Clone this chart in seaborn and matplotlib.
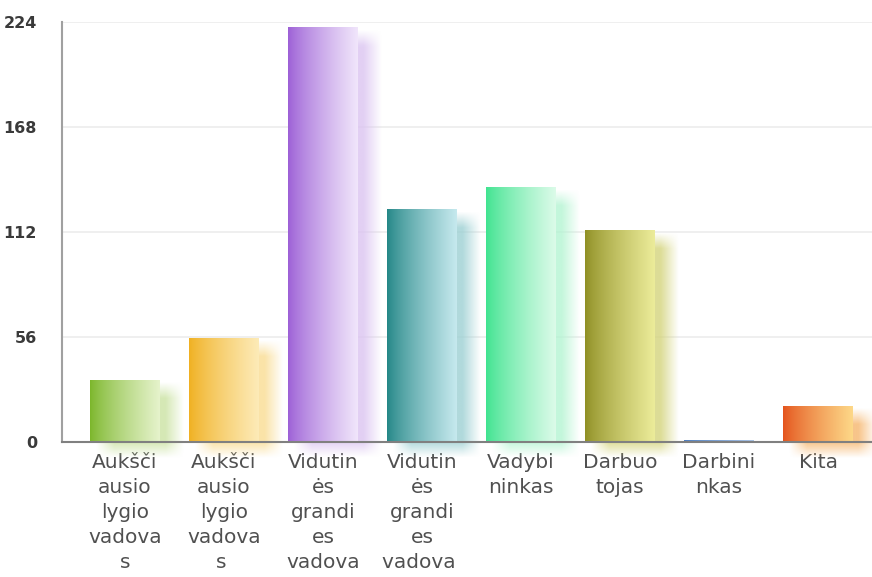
import numpy as np
import matplotlib
matplotlib.use("Agg")
import matplotlib.pyplot as plt
import matplotlib.colors as mcolors
import seaborn as sns

categories = [
    "Aukšči\nausio\nlygio\nvadova\ns",
    "Aukšči\nausio\nlygio\nvadova\ns ",
    "Vidutin\nės\ngrandi\nes\nvadova",
    "Vidutin\nės\ngrandi\nes\nvadova ",
    "Vadybi\nninkas",
    "Darbuo\ntojas",
    "Darbini\nnkas",
    "Kita",
]
values = [33, 55, 221, 124, 136, 113, 1, 19]
yticks = [0, 56, 112, 168, 224]

left_colors = ["#7bb62a", "#f0b020", "#9c5fd6", "#238686", "#3ee38f", "#8f8f24", "#4a7cc0", "#e4531c"]
right_colors = ["#e6f3cc", "#fdebb8", "#f1e6fb", "#c6e9ee", "#dcfbe9", "#ecec9a", "#a9c4e8", "#fdd888"]

sns.set_style("white")
plt.rcParams['font.family'] = ['DejaVu Sans']

fig = plt.figure(figsize=(8.72, 5.77), dpi=100)
ax = fig.add_axes([62/872, (577-442)/577, 1 - 62/872, (442-22)/577])

sns.barplot(x=categories, y=values, hue=categories, palette=left_colors,
            legend=False, width=0.7, ax=ax, zorder=3)

xlim = (-0.636, 7.545)
ylim = (0, 224)

px_x = 1 / 99.0
px_y = 224 / 420.0

def ramp(v, a, b):
    return np.clip((v - a) / (b - a), 0, 1)

for i, p in enumerate(ax.patches):
    x0 = p.get_x()
    w = p.get_width()
    h = p.get_height()
    lc = np.array(mcolors.to_rgb(left_colors[i]))
    rc = np.array(mcolors.to_rgb(right_colors[i]))
    if h > 2:
        dx = 15 * px_x
        dy = 10 * px_y
        blur_x = 9 * px_x
        blur_y = 8 * px_y
        sx0, sx1 = x0 + dx - blur_x, x0 + w + dx + blur_x
        sy0, sy1 = -16 * px_y, h - dy + blur_y
        nx, ny = 160, 200
        xs = np.linspace(sx0, sx1, nx)
        ys = np.linspace(sy0, sy1, ny)
        ax_ = ramp(xs, sx0, sx0 + 2 * blur_x) * ramp(xs, sx1, sx1 - 2 * blur_x)
        ay_ = ramp(ys, sy0, sy0 + 16 * px_y) * ramp(ys, sy1, sy1 - 2 * blur_y)
        alpha = np.outer(ay_, ax_) * 0.8
        sc = lc * 0.25 + rc * 0.75
        img = np.zeros((ny, nx, 4))
        img[..., :3] = sc
        img[..., 3] = alpha
        ax.imshow(img, extent=[sx0, sx1, sy0, sy1], origin="lower",
                  aspect="auto", zorder=2, interpolation="bilinear", clip_on=False)
    t = np.linspace(0, 1, 200) ** 0.8
    cols = lc[None, :] * (1 - t[:, None]) + rc[None, :] * t[:, None]
    img = np.ones((1, 200, 4))
    img[0, :, :3] = cols
    ax.imshow(img, extent=[x0, x0 + w, 0, h], origin="lower",
              aspect="auto", zorder=4, interpolation="bilinear")
    p.set_facecolor("none")
    p.set_edgecolor("none")

ax.set_xlim(*xlim)
ax.set_ylim(*ylim)
ax.set_yticks(yticks)
ax.set_yticklabels([str(v) for v in yticks], fontsize=11.5, color="#3a3a3a",
                   fontweight="bold")
ax.yaxis.grid(True, color="#ececec", linewidth=1.2, zorder=0)
ax.set_axisbelow(True)
ax.tick_params(axis="y", length=0, pad=18)
ax.tick_params(axis="x", length=0, pad=8)
for lab in ax.get_xticklabels():
    lab.set_fontsize(14.5)
    lab.set_color("#505050")
    lab.set_linespacing(1.4)
    lab.set_verticalalignment("top")

for s in ["top", "right"]:
    ax.spines[s].set_visible(False)
ax.spines["left"].set_color("#a0a0a0")
ax.spines["left"].set_linewidth(1.5)
ax.spines["bottom"].set_color("#808080")
ax.spines["bottom"].set_linewidth(1.5)
ax.spines["bottom"].set_zorder(5)
ax.set_xlabel("")
ax.set_ylabel("")

fig.savefig("out.png", dpi=100)
